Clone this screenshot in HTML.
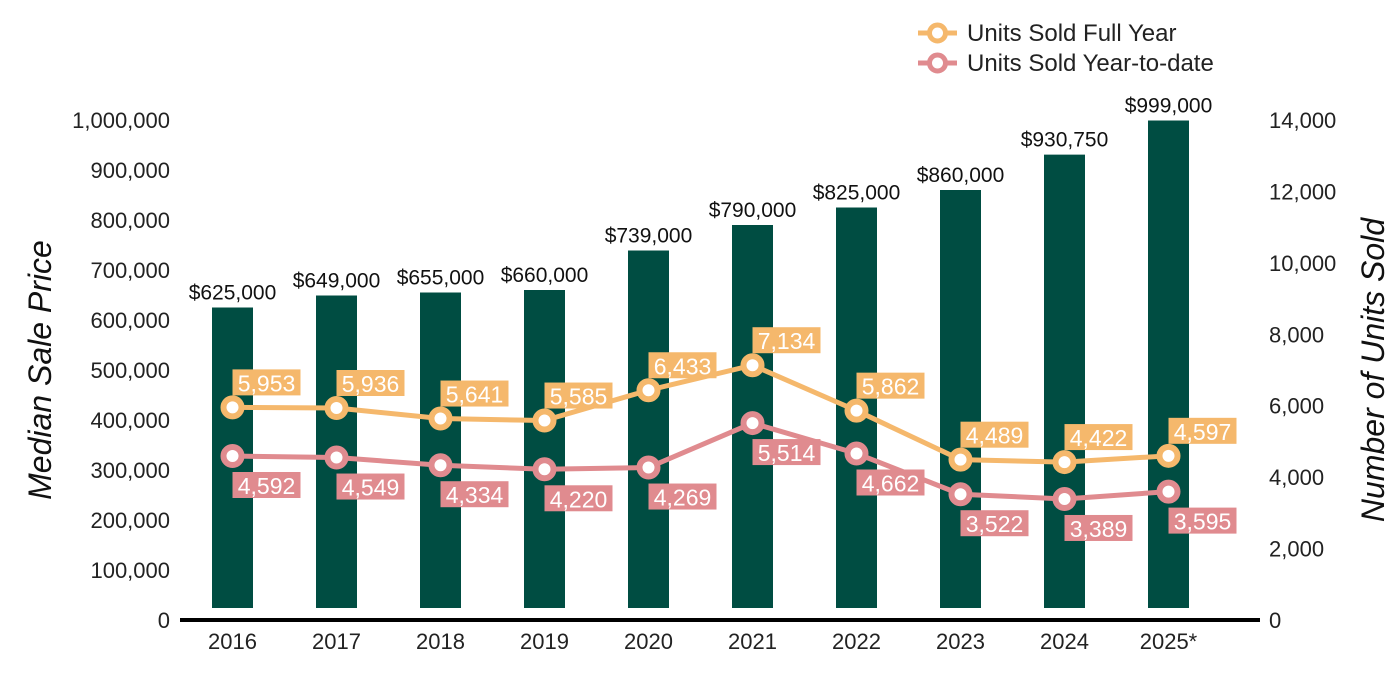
<!DOCTYPE html>
<html><head><meta charset="utf-8"><style>body{margin:0;background:#fff}svg{display:block;font-family:"Liberation Sans",Arial,sans-serif}</style></head>
<body>
<svg id="c" width="1400" height="700"></svg>
<script>
const years=["2016","2017","2018","2019","2020","2021","2022","2023","2024","2025*"];
const prices=[625000,649000,655000,660000,739000,790000,825000,860000,930750,999000];
const fullYear=[5953,5936,5641,5585,6433,7134,5862,4489,4422,4597];
const ytd=[4592,4549,4334,4220,4269,5514,4662,3522,3389,3595];
const leftTicks=[0,100000,200000,300000,400000,500000,600000,700000,800000,900000,1000000];
const rightTicks=[0,2000,4000,6000,8000,10000,12000,14000];
const NS="http://www.w3.org/2000/svg",svg=document.getElementById('c');
function el(t,a,txt){const e=document.createElementNS(NS,t);for(const k in a)e.setAttribute(k,a[k]);if(txt!=null)e.textContent=txt;svg.appendChild(e);return e;}
const yL=v=>620-v*500/1000000, yR=v=>620-v*500/14000, xC=i=>232.5+i*104;
const fmt=v=>v.toLocaleString('en-US');
let e;
leftTicks.forEach(t=>{e=el('text',{x:170,y:yL(t)+8,'text-anchor':'end','font-size':22,fill:'#222'},fmt(t));

});
rightTicks.forEach(t=>{e=el('text',{x:1269,y:yR(t)+8,'font-size':22,fill:'#222'},fmt(t));

});
e=el('text',{x:0,y:0,transform:'translate(51,370) rotate(-90)','text-anchor':'middle','font-size':32,'font-style':'italic',fill:'#111'},'Median Sale Price');


e=el('text',{x:0,y:0,transform:'translate(1384,370) rotate(-90)','text-anchor':'middle','font-size':32,'font-style':'italic',fill:'#111'},'Number of Units Sold');


prices.forEach((p,i)=>{
 e=el('rect',{x:xC(i)-20.5,y:yL(p),width:41,height:608-yL(p),fill:'#004d42'});
 
 
 e=el('text',{x:xC(i),y:yL(p)-8,'text-anchor':'middle','font-size':21,fill:'#111'},'$'+fmt(p));
 
 
 e=el('text',{x:xC(i),y:649,'text-anchor':'middle','font-size':22,fill:'#222'},years[i]);
 
 
});
e=el('line',{x1:180,x2:1260,y1:620,y2:620,stroke:'#000','stroke-width':4});


function series(vals,color,name,above){
 e=el('polyline',{points:vals.map((v,i)=>xC(i)+','+yR(v)).join(' '),fill:'none',stroke:color,'stroke-width':5});
 
 
 vals.forEach((v,i)=>{
  const x=xC(i),y=yR(v);
  e=el('circle',{cx:x,cy:y,r:9,fill:'#fff',stroke:color,'stroke-width':6});
  
  
  const by=above?y-38:y+16;
  e=el('rect',{x:x,y:by,width:68,height:26,fill:color});
  
  
  e=el('text',{x:x+34,y:by+22,'text-anchor':'middle','font-size':23,fill:'#fff'},fmt(v));
  
  
 });
}
series(fullYear,'#f5b86c','full-year',true);
series(ytd,'#e08b8f','ytd',false);
[['#f5b86c','Units Sold Full Year',33],['#e08b8f','Units Sold Year-to-date',63]].forEach(([c,t,y])=>{
 e=el('line',{x1:918,x2:957,y1:y,y2:y,stroke:c,'stroke-width':5});
 
 
 e=el('circle',{cx:937.5,cy:y,r:8,fill:'#fff',stroke:c,'stroke-width':5});
 
 
 e=el('text',{x:967,y:y+8,'font-size':24,fill:'#222'},t);
 
 
});
</script>
</body></html>
